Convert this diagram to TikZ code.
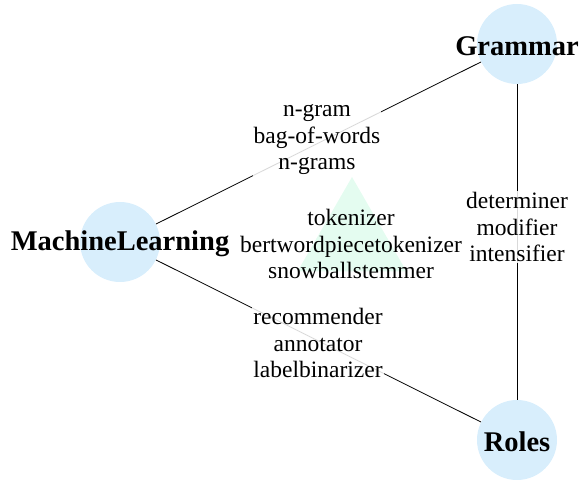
\documentclass[tikz,border=0pt]{standalone}
\usepackage{fontspec}
\setmainfont{Liberation Serif}
\usetikzlibrary{shapes.geometric}
\definecolor{circblue}{HTML}{D8EEFC}
\definecolor{trimint}{HTML}{E4FCF0}
\tikzset{
  circ/.style={circle, fill=circblue, minimum size=80pt, inner sep=0pt},
  title/.style={font=\fontsize{28.5}{30}\selectfont\bfseries, inner sep=0pt},
  lbl/.style={font=\fontsize{23.5}{26.5}\selectfont, align=center, fill=white, fill opacity=0.85, text opacity=1, inner sep=1pt},
  tlbl/.style={font=\fontsize{23.5}{26.5}\selectfont, align=center, inner sep=1pt},
  edge/.style={draw=black, line width=0.8pt},
  tri/.style={regular polygon, regular polygon sides=3, fill=trimint, minimum size=126pt, inner sep=0pt}
}
\begin{document}
\begin{tikzpicture}[x=1pt,y=-1pt]
\useasboundingbox (0,0) rectangle (582,481);
\node[circ] (gr) at (517,44) {};
\node[circ] (ml) at (120,242) {};
\node[circ] (ro) at (517,440) {};
\draw[edge] (ml) -- (gr);
\draw[edge] (gr) -- (ro);
\draw[edge] (ml) -- (ro);
\node[tri] (tr) at (352,240) {};
\node[title] (grt) at (517,46) {Grammar};
\node[title] (mlt) at (120,244) {MachineLearning};
\node[title] (rot) at (517,442) {Roles};
\node[lbl] (l1) at (317,140) {n-gram\\bag-of-words\\n-grams};
\node[lbl] (l2) at (517,227) {determiner\\modifier\\intensifier};
\node[lbl] (l3) at (318,343) {recommender\\annotator\\labelbinarizer};
\node[tlbl] (l4) at (351,244) {tokenizer\\bertwordpiecetokenizer\\snowballstemmer};
\end{tikzpicture}
\end{document}
